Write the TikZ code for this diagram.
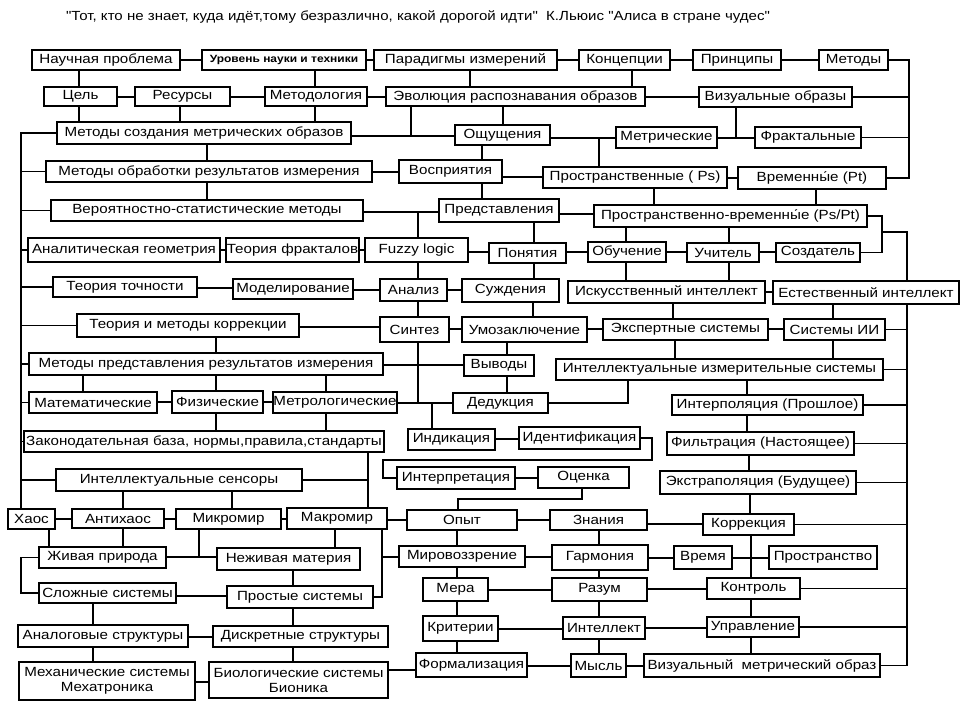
\documentclass[tikz,border=0pt]{standalone}
\usepackage{fontspec}
\setmainfont{Liberation Sans}[FakeStretch=1.14]
\newfontfamily\titlefont{Liberation Sans}[FakeStretch=1.14]
\newcommand\mybox[7][]{%
  \pgfmathsetmacro\bxcx{(#3+#5)/2}%
  \pgfmathsetmacro\bxcy{(#4+#6)/2}%
  \pgfmathsetmacro\bxw{#5-#3}%
  \pgfmathsetmacro\bxh{#6-#4}%
  \node[box,minimum width=\bxw pt,minimum height=\bxh pt,#1] (#2) at (\bxcx,\bxcy) {#7};}
\newcommand\myh[3]{\draw (#1.east |- 0,#3) -- (#2.west |- 0,#3);}
\newcommand\myv[3]{\draw (#1.south -| #3,0) -- (#2.north -| #3,0);}
\newcommand\myr[1]{\draw (#1.east) -- (#1.east -| 907,0);}
\newcommand\myl[1]{\draw (#1.west) -- (#1.west -| 21,0);}
\begin{document}
\begin{tikzpicture}[x=1pt,y=-1pt,line width=1.1pt,
  box/.style={draw,line width=1.3pt,inner sep=0pt,align=center,font=\fontsize{13.3}{15}\selectfont}]
\useasboundingbox (0,0) rectangle (968,713);
\node[font=\titlefont\fontsize{13.2}{15}\selectfont] (title) at (418,17) {"Тот, кто не знает, куда идёт,тому безразлично, какой дорогой идти"\ \ К.Льюис "Алиса в стране чудес"};
% row 1
\mybox{np}{32}{50}{180}{70}{Научная проблема}
\mybox[font=\fontsize{10.5}{12}\selectfont\bfseries]{unt}{202}{50}{366}{70}{Уровень науки и техники}
\mybox{par}{374}{50}{557}{70}{Парадигмы измерений}
\mybox{kon}{579}{50}{670}{70}{Концепции}
\mybox{pri}{693}{50}{781}{70}{Принципы}
\mybox{met}{819}{50}{888}{70}{Методы}
% row 2
\mybox{cel}{44}{87}{117}{106}{Цель}
\mybox{res}{135}{87}{230}{106}{Ресурсы}
\mybox{mtd}{265}{87}{367}{106}{Методология}
\mybox{evo}{386}{87}{645}{106}{Эволюция распознавания образов}
\mybox{viz}{699}{87}{852}{107}{Визуальные образы}
% row 3
\mybox{msm}{57}{122}{351}{144}{Методы создания метрических образов}
\mybox{osh}{455}{125}{550}{145}{Ощущения}
\mybox{mtr}{616}{127}{717}{148}{Метрические}
\mybox{fra}{755}{127}{861}{148}{Фрактальные}
% row 4
\mybox{mob}{46}{161}{372}{182}{Методы обработки результатов измерения}
\mybox{vos}{399}{160}{502}{183}{Восприятия}
\mybox{pps}{543}{167}{727}{188}{Пространственные ( Ps)}
\mybox{vpt}{738}{167}{886}{189}{Временны́е (Pt)}
% row 5
\mybox{vsm}{51}{200}{363}{221}{Вероятностно-статистические методы}
\mybox{pre}{439}{199}{559}{222}{Представления}
\mybox{ppt}{594}{205}{867}{227}{Пространственно-временны́е (Ps/Pt)}
% row 6
\mybox{ang}{28}{238}{220}{262}{Аналитическая геометрия}
\mybox{tfr}{226}{238}{359}{262}{Теория фракталов}
\mybox{fuz}{365}{238}{468}{262}{Fuzzy logic}
\mybox{pon}{489}{243}{566}{263}{Понятия}
\mybox{obu}{588}{242}{666}{262}{Обучение}
\mybox{uch}{687}{243}{759}{262}{Учитель}
\mybox{soz}{776}{243}{860}{262}{Создатель}
% row 7
\mybox{tto}{53}{277}{197}{297}{Теория точности}
\mybox{mod}{233}{279}{353}{299}{Моделирование}
\mybox{ana}{380}{279}{447}{301}{Анализ}
\mybox{suz}{462}{279}{559}{302}{Суждения}
\mybox{iin}{568}{281}{765}{303}{Искусственный интеллект}
\mybox{ein}{773}{281}{959}{304}{Естественный интеллект}
% row 8
\mybox{tmk}{77}{314}{299}{337}{Теория и методы коррекции}
\mybox{sin}{380}{317}{449}{342}{Синтез}
\mybox{umo}{462}{317}{587}{342}{Умозаключение}
\mybox{eks}{603}{319}{768}{340}{Экспертные системы}
\mybox{sii}{784}{319}{885}{340}{Системы ИИ}
% row 9
\mybox{mpr}{29}{353}{383}{375}{Методы представления результатов измерения}
\mybox{vyv}{464}{355}{534}{376}{Выводы}
\mybox{iis}{556}{359}{883}{380}{Интеллектуальные измерительные системы}
% row 10
\mybox{mat}{29}{392}{157}{413}{Математические}
\mybox{fiz}{172}{391}{263}{413}{Физические}
\mybox{mel}{273}{392}{397}{413}{Метрологические}
\mybox{ded}{453}{393}{548}{413}{Дедукция}
\mybox{inp}{672}{395}{863}{415}{Интерполяция (Прошлое)}
% row 11
\mybox{zak}{24}{431}{384}{452}{Законодательная база, нормы,правила,стандарты}
\mybox{ind}{408}{429}{495}{450}{Индикация}
\mybox{idn}{519}{427}{640}{449}{Идентификация}
\mybox{fil}{667}{432}{854}{455}{Фильтрация (Настоящее)}
% row 12
\mybox{ise}{56}{469}{302}{491}{Интеллектуальные сенсоры}
\mybox{itp}{397}{467}{515}{489}{Интерпретация}
\mybox{oce}{538}{467}{629}{488}{Оценка}
\mybox{ext}{660}{471}{856}{494}{Экстраполяция (Будущее)}
% row 13
\mybox{hao}{8}{509}{55}{529}{Хаос}
\mybox{ahs}{72}{509}{164}{528}{Антихаос}
\mybox{mik}{176}{509}{281}{529}{Микромир}
\mybox{mak}{287}{508}{387}{529}{Макромир}
\mybox{opy}{407}{510}{517}{530}{Опыт}
\mybox{zna}{550}{510}{647}{530}{Знания}
\mybox{kor}{703}{514}{794}{535}{Коррекция}
% row 14
\mybox{zhp}{39}{547}{166}{568}{Живая природа}
\mybox{nem}{217}{548}{360}{570}{Неживая материя}
\mybox{mir}{399}{546}{525}{567}{Мировоззрение}
\mybox{gar}{552}{545}{648}{570}{Гармония}
\mybox{vre}{674}{546}{732}{569}{Время}
\mybox{prs}{769}{546}{877}{569}{Пространство}
% row 15
\mybox{slo}{39}{583}{176}{603}{Сложные системы}
\mybox{pro}{227}{586}{373}{608}{Простые системы}
\mybox{mer}{423}{578}{488}{601}{Мера}
\mybox{raz}{552}{578}{647}{601}{Разум}
\mybox{ktr}{707}{578}{800}{599}{Контроль}
% row 16
\mybox{anl}{18}{625}{188}{647}{Аналоговые структуры}
\mybox{dis}{213}{626}{388}{647}{Дискретные структуры}
\mybox{kri}{423}{616}{498}{641}{Критерии}
\mybox{int}{563}{617}{645}{639}{Интеллект}
\mybox{upr}{707}{617}{799}{637}{Управление}
% row 17
\mybox{meh}{19}{662}{195}{700}{Механические системы\\Мехатроника}
\mybox{bio}{209}{662}{388}{698}{Биологические системы\\Бионика}
\mybox{frm}{416}{653}{527}{677}{Формализация}
\mybox{mys}{571}{654}{626}{677}{Мысль}
\mybox{vmo}{644}{654}{880}{677}{Визуальный\ \ метрический образ}

% coordinates for junctions
\coordinate (jEvo) at (411,136);
\coordinate (jMtr) at (599,138);
\coordinate (jViz) at (736,138);
\coordinate (jFuz) at (418,212);
\coordinate (jPpt) at (882,232);
\coordinate (jDed) at (418,403);
\coordinate (jInd) at (432,403);
\coordinate (jId1) at (652,460);
\coordinate (jOce) at (458,499);
\coordinate (jMik) at (199,557);
\coordinate (jMak) at (382,557);

% row 1 connectors
\myh{np}{unt}{60}\myh{unt}{par}{60}\myh{par}{kon}{60}\myh{kon}{pri}{60}\myh{pri}{met}{60}
\draw (met.east) -| (vpt.east -| 909,0) -- (vpt.east);
\draw (viz.east) -- (viz.east -| 909,0);
\draw (fra.east) -- (fra.east -| 909,0);
\myv{np}{cel}{79}\myv{unt}{mtd}{315}\myv{par}{evo}{470}\myv{kon}{evo}{632}
% row 2
\myh{cel}{res}{97}\myh{res}{mtd}{97}\myh{mtd}{evo}{97}\myh{evo}{viz}{97}
\myv{cel}{msm}{79}\myv{res}{msm}{180}\myv{mtd}{msm}{315}
\draw (evo.south -| jEvo) -- (jEvo);
\myv{evo}{osh}{503}
% row 3
\myh{msm}{osh}{136}\myh{osh}{mtr}{138}\myh{mtr}{fra}{138}
\draw (viz.south -| jViz) -- (jViz);
\draw (jMtr) -- (pps.north -| jMtr);
\myv{msm}{mob}{207}\myv{osh}{vos}{482}
% left spine
\draw (msm.west) -| (hao.north -| 21,0);
\myl{mob}\myl{vsm}\myl{ang}\myl{tto}\myl{tmk}\myl{mpr}\myl{mat}\myl{zak}\myl{ise}
% row 4
\myh{mob}{vos}{172}\myh{vos}{pps}{177}\myh{pps}{vpt}{178}
\myv{mob}{vsm}{207}\myv{vos}{pre}{482}\myv{pps}{ppt}{654}\myv{vpt}{ppt}{816}
% row 5
\myh{vsm}{pre}{212}\myh{pre}{ppt}{214}
\draw (jFuz) -- (fuz.north -| jFuz);
\draw (ppt.east |- 0,216) -| (soz.east -| 882,0) -- (soz.east);
\draw (jPpt) -| (ein.north -| 907,0);
\myv{pre}{pon}{534}\myv{ppt}{obu}{626}\myv{ppt}{uch}{729}
% right spine
\draw (ein.south -| 907,0) |- (vmo.east);
\myr{sii}\myr{iis}\myr{inp}\myr{fil}\myr{ext}\myr{kor}\myr{ktr}\myr{upr}
% row 6
\myh{ang}{tfr}{250}\myh{tfr}{fuz}{250}\myh{fuz}{pon}{252}\myh{pon}{obu}{252}\myh{obu}{uch}{252}\myh{uch}{soz}{252}
\myv{fuz}{ana}{418}\myv{pon}{suz}{534}\myv{obu}{iin}{626}\myv{uch}{iin}{729}
% row 7
\myh{tto}{mod}{288}\myh{mod}{ana}{290}\myh{ana}{suz}{290}\myh{iin}{ein}{292}
\myv{ana}{sin}{418}\myv{suz}{umo}{533}\myv{iin}{eks}{673}\myv{ein}{sii}{833}
% row 8
\myh{tmk}{sin}{327}\myh{sin}{umo}{329}\myh{umo}{eks}{329}\myh{eks}{sii}{329}
\myv{tmk}{mpr}{216}\myv{umo}{vyv}{507}\myv{eks}{iis}{675}\myv{sii}{iis}{833}
\draw (sin.south -| jDed) -- (jDed);
% row 9
\myh{mpr}{vyv}{365}
\myv{mpr}{mat}{83}\myv{mpr}{fiz}{216}\myv{mpr}{mel}{326}\myv{vyv}{ded}{507}\myv{iis}{inp}{747}
% row 10
\myh{mat}{fiz}{402}\myh{fiz}{mel}{402}\myh{mel}{ded}{403}
\draw (ded.east) -| (iis.south -| 628,0);
\draw (jInd) -- (ind.north -| jInd);
\myv{fiz}{zak}{216}\myv{mel}{zak}{326}\myv{inp}{fil}{747}
% row 11
\myh{ind}{idn}{439}
\draw (idn.east) -| (jId1) -| (itp.west -| 383,0) -- (itp.west);
\myv{zak}{mak}{368}
\draw (ise.east) -- (ise.east -| 368,0);
\myv{fil}{ext}{749}
% row 12
\myh{itp}{oce}{478}
\draw (oce.south -| 582,0) |- (jOce) -- (opy.north -| jOce);
\myv{ise}{ahs}{123}\myv{ise}{mik}{232}\myv{ext}{kor}{750}
% row 13
\myh{hao}{ahs}{519}\myh{ahs}{mik}{519}\myh{mik}{mak}{519}\myh{mak}{opy}{520}\myh{opy}{zna}{520}\myh{zna}{kor}{524}
\myv{hao}{zhp}{49}\myv{ahs}{zhp}{123}
\draw (mik.south -| jMik) -- (jMik);
\myv{mak}{nem}{335}
\draw (mak.south -| jMak) |- (pro.east);
\draw (jMak) -- (mir.west |- jMak);
\myv{opy}{mir}{457}\myv{zna}{gar}{599}\myv{kor}{ktr}{751}
% row 14
\myh{zhp}{nem}{557}\myh{mir}{gar}{557}\myh{gar}{vre}{558}\myh{vre}{prs}{558}
\draw (zhp.west) -| (slo.west -| 21,0) -- (slo.west);
\myv{nem}{pro}{293}\myv{mir}{mer}{457}\myv{gar}{raz}{599}
% row 15
\myh{slo}{pro}{596}\myh{mer}{raz}{590}\myh{raz}{ktr}{589}
\myv{slo}{anl}{93}\myv{pro}{dis}{293}\myv{mer}{kri}{457}\myv{raz}{int}{599}\myv{ktr}{upr}{751}
% row 16
\myh{anl}{dis}{637}\myh{kri}{int}{629}\myh{int}{upr}{628}
\myv{anl}{meh}{93}\myv{dis}{bio}{293}\myv{kri}{frm}{457}\myv{int}{mys}{599}\myv{upr}{vmo}{751}
% row 17
\myh{meh}{bio}{682}\myh{bio}{frm}{670}\myh{frm}{mys}{666}\myh{mys}{vmo}{666}
\end{tikzpicture}
\end{document}
